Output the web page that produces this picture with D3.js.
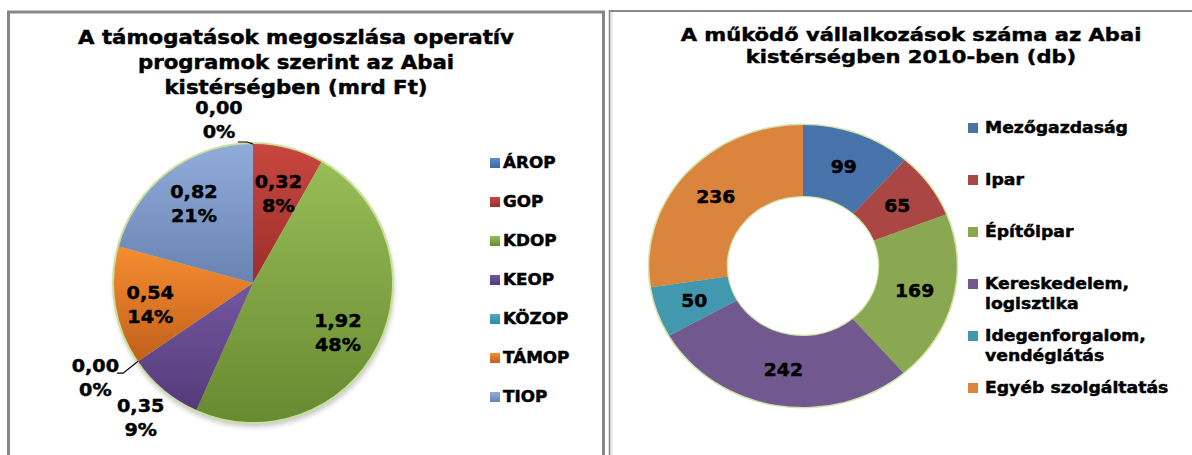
<!DOCTYPE html>
<html>
<head>
<meta charset="utf-8">
<script src="https://cdn.jsdelivr.net/npm/d3@7"></script>
<style>
body { margin: 0; background: #fff; }
svg text { font-family: "DejaVu Sans", Verdana, sans-serif; font-weight: bold; fill: #000; stroke: #000; stroke-width: 0.45px; }
</style>
</head>
<body>
<svg id="chart" width="1192" height="455"></svg>
<script>
// left chart: támogatások (mrd Ft)
var opCategories = ["ÁROP", "GOP", "KDOP", "KEOP", "KÖZOP", "TÁMOP", "TIOP"];
var opValues = [0.0, 0.324, 1.916, 0.349, 0.0, 0.543, 0.821];
var opTitle = ["A támogatások megoszlása operatív", "programok szerint az Abai", "kistérségben (mrd Ft)"];

// right chart: működő vállalkozások (db)
var sectorNames = [["Mezőgazdaság"], ["Ipar"], ["Építőipar"], ["Kereskedelem,", "logisztika"],
                   ["Idegenforgalom,", "vendéglátás"], ["Egyéb szolgáltatás"]];
var sectorValues = [99, 65, 169, 242, 50, 236];
var sectorTitle = ["A működő vállalkozások száma az Abai", "kistérségben 2010-ben (db)"];

// colours (top / bottom of the gradient for the left pie)
var opColors = [["#5a8ccc", "#3d6aa4"], ["#c8473f", "#9c2e2c"], ["#97bd57", "#688a31"], ["#7358a0", "#553a7a"],
                ["#4bacc6", "#2f8aa3"], ["#f68d30", "#c1601c"], ["#91acdb", "#6883b0"]];
var sectorColors = ["#4772aa", "#aa4643", "#8aa752", "#71588f", "#4198af", "#db843d"];

var hu = d3.formatLocale({decimal: ",", thousands: " ", grouping: [3], currency: ["", " Ft"]});
var fmt2 = hu.format(".2f");

var svg = d3.select("#chart");
var defs = svg.append("defs");

opColors.forEach(function(c, i) {
  var g = defs.append("linearGradient").attr("id", "grad" + i)
    .attr("x1", 0).attr("y1", 0).attr("x2", 0).attr("y2", 1);
  g.append("stop").attr("offset", "0%").attr("stop-color", c[0]);
  g.append("stop").attr("offset", "100%").attr("stop-color", c[1]);
});
var sh = defs.append("filter").attr("id", "shadow").attr("x", "-20%").attr("y", "-20%").attr("width", "140%").attr("height", "140%");
sh.append("feGaussianBlur").attr("stdDeviation", 2.5);

function stretchText(sel, x, y, sx) {
  return sel.attr("transform", "translate(" + x + "," + y + ") scale(" + sx + ",1)")
    .attr("dy", "0.36em");
}

// panel frames
svg.append("rect").attr("x", 8.5).attr("y", 12).attr("width", 595).attr("height", 500)
  .attr("fill", "none").attr("stroke", "#878787").attr("stroke-width", 3);
svg.append("rect").attr("x", 610).attr("y", 12).attr("width", 3).attr("height", 450).attr("fill", "#ebebeb");
svg.append("line").attr("x1", 609.5).attr("x2", 609.5).attr("y1", 10).attr("y2", 460)
  .attr("stroke", "#878787").attr("stroke-width", 1.5);
svg.append("line").attr("x1", 609).attr("x2", 1192).attr("y1", 11).attr("y2", 11)
  .attr("stroke", "#878787").attr("stroke-width", 2);

// ---------- left pie ----------
var pcx = 253, pcy = 283, pr = 139;
var opSum = d3.sum(opValues);
var pie = d3.pie().sort(null).value(function(d) { return d; });
var opArcs = pie(opValues);
var arc = d3.arc().innerRadius(0).outerRadius(pr);

var lg = svg.append("g").attr("transform", "translate(" + pcx + "," + pcy + ")");
lg.append("circle").attr("cx", 1).attr("cy", 4).attr("r", pr + 1).attr("fill", "#9a9a9a")
  .attr("opacity", 0.55).attr("filter", "url(#shadow)");
lg.append("circle").attr("r", pr + 2).attr("fill", "#c9e19b");
lg.selectAll("path.slice").data(opArcs).enter().append("path")
  .attr("class", "slice")
  .attr("d", arc)
  .attr("fill", function(d, i) { return "url(#grad" + i + ")"; });

// label placement (radius factor, offsets, leader knee)
var opLabelPlace = {
  "ÁROP": {k: 1.17, dx: -34, dy: 0, leader: [[-6, -2], [-15, -2]]},
  "GOP": {k: 0.66, dx: 2, dy: 0},
  "KDOP": {k: 0.7, dx: -2, dy: 6},
  "KEOP": {k: 1.26, dx: 0, dy: 0},
  "KÖZOP": {k: 1.25, dx: -14, dy: -3, leader: [[-15, 12], [-21, 12]]},
  "TÁMOP": {k: 0.72, dx: -4, dy: 5},
  "TIOP": {k: 0.7, dx: 0, dy: -2}
};

opArcs.forEach(function(d, i) {
  var cat = opCategories[i];
  var pl = opLabelPlace[cat];
  var a = (d.startAngle + d.endAngle) / 2;
  var x = Math.sin(a) * pr * pl.k + pl.dx;
  var y = -Math.cos(a) * pr * pl.k + pl.dy;
  var pct = Math.round(d.value / opSum * 100) + "%";
  stretchText(lg.append("text").attr("text-anchor", "middle").style("font-size", "17px"), x, y - 12, 1.13).text(fmt2(d.value));
  stretchText(lg.append("text").attr("text-anchor", "middle").style("font-size", "17px"), x, y + 12, 1.13).text(pct);
  if (pl.leader) {
    var ex = Math.sin(a) * pr, ey = -Math.cos(a) * pr;
    var pts = [[ex, ey]].concat(pl.leader.map(function(o) { return [ex + o[0], ey + o[1]]; }));
    lg.append("path").attr("d", d3.line()(pts)).attr("fill", "none").attr("stroke", "#000").attr("stroke-width", 1.2);
  }
});

// left title
opTitle.forEach(function(t, i) {
  stretchText(svg.append("text").attr("text-anchor", "middle").style("font-size", "19px"), 296, 37 + i * 25, 1.12).text(t);
});

// left legend
var legY = d3.scalePoint().domain(opCategories).range([163, 397]);
opCategories.forEach(function(c, i) {
  svg.append("rect").attr("x", 490).attr("y", legY(c) - 5).attr("width", 10).attr("height", 10)
    .attr("fill", "url(#grad" + i + ")");
  stretchText(svg.append("text").style("font-size", "15px"), 503, legY(c), 1.12).text(c);
});

// ---------- right donut ----------
var dcx = 803, dcy = 266, dro = 141, dri = 70, dsx = 1.09;
var donutArcs = pie(sectorValues);
var darc = d3.arc().innerRadius(dri).outerRadius(dro);
var rg = svg.append("g").attr("transform", "translate(" + dcx + "," + dcy + ") scale(" + dsx + ",1)");
rg.append("circle").attr("r", dro + 1.5).attr("fill", "#d3e4a8");
rg.append("circle").attr("r", dri - 0.5).attr("fill", "#fff").attr("stroke", "#d3e4a8").attr("stroke-width", 1.5);
rg.selectAll("path.slice").data(donutArcs).enter().append("path")
  .attr("class", "slice")
  .attr("d", darc)
  .attr("fill", function(d, i) { return sectorColors[i]; });

donutArcs.forEach(function(d) {
  var c = darc.centroid(d);
  stretchText(svg.append("text").attr("text-anchor", "middle").style("font-size", "17px"),
    dcx + c[0] * dsx, dcy + c[1], 1.1).text(d.value);
});

// right title
sectorTitle.forEach(function(t, i) {
  stretchText(svg.append("text").attr("text-anchor", "middle").style("font-size", "18px"), 911, 35 + i * 22, 1.17).text(t);
});

// right legend
var sLegY = d3.scalePoint().domain(d3.range(sectorNames.length)).range([128, 388]);
sectorNames.forEach(function(lines, i) {
  svg.append("rect").attr("x", 968).attr("y", sLegY(i) - 5).attr("width", 10).attr("height", 10)
    .attr("fill", sectorColors[i]);
  lines.forEach(function(t, j) {
    stretchText(svg.append("text").style("font-size", "15px"), 985, sLegY(i) + j * 20, 1.15).text(t);
  });
});
</script>
</body>
</html>
